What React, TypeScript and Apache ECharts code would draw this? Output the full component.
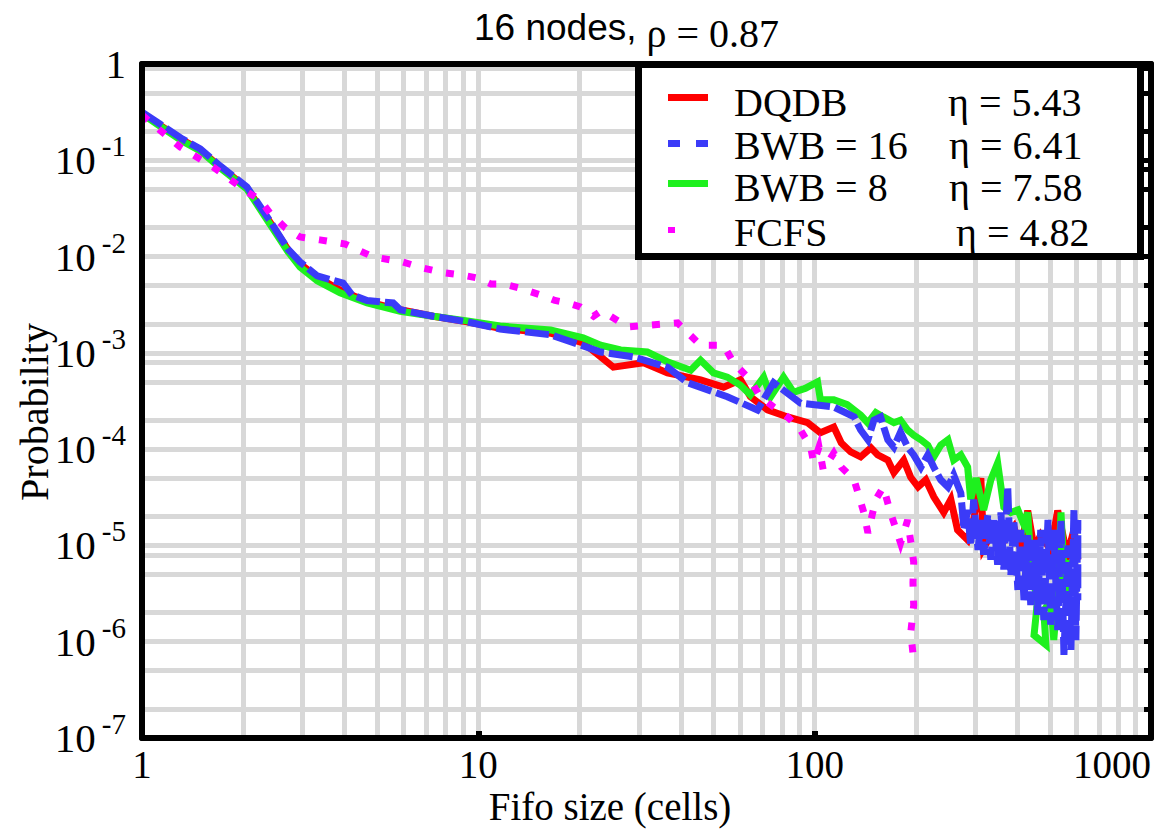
import React, { useEffect, useRef } from "react";
import * as echarts from "echarts";

const SERIF = '"Liberation Serif", "Times New Roman", serif';
const SANS = '"Liberation Sans", Arial, sans-serif';

// ---- axis / grid values ----
const xMin = 1;
const xMax = 1000;
const yMin = 1e-7;
const yMax = 1;
const xGridValues = [2, 3, 4, 5, 6, 7, 8, 9, 10, 20, 30, 40, 50, 60, 70, 80, 90, 100, 200, 300, 400, 500, 600, 700, 800, 900];
const yGridValues = [
  0.9, 0.5, 0.2, 0.1, 0.08, 0.05, 0.02, 0.01, 0.005, 0.002, 0.001, 0.0008, 0.0005, 0.0002,
  1e-4, 5e-5, 2e-5, 1e-5, 8e-6, 5e-6, 2e-6, 1e-6, 5e-7, 2e-7,
];

// ---- legend texts ----
const seriesNames = ["DQDB", "BWB = 16", "BWB = 8", "FCFS"];
const etaLabels = ["η = 5.43", "η = 6.41", "η = 7.58", "η = 4.82"];
const seriesColors = ["#ff0000", "#3b3bf8", "#1ef01e", "#ff00ff"];

// ---- data: [fifo size, probability] ----
const dqdb: [number, number][] = [
  [1, 0.31], [1.13, 0.232], [1.32, 0.162], [1.49, 0.128], [1.71, 0.085], [2.05, 0.0516], [2.4, 0.0229],
  [2.72, 0.0117], [2.95, 0.0084], [3.32, 0.0061], [3.88, 0.0045], [4.67, 0.0034], [5.86, 0.0028],
  [7.34, 0.0024], [9.27, 0.0021], [11.6, 0.0018], [16.4, 0.0016], [20.5, 0.00127], [23.1, 0.00091],
  [25.2, 0.00071], [31, 0.00079], [36.5, 0.00062], [45.8, 0.000525], [53.6, 0.00044], [60.2, 0.000525],
  [64.4, 0.00035], [72.4, 0.000256], [83.1, 0.000216], [95.3, 0.000188], [104, 0.000148], [114, 0.00017],
  [120, 0.000116], [128, 9.35e-5], [137, 8.3e-5], [147, 1.03e-4], [154, 8.7e-5], [165, 7.7e-5],
  [172, 5.7e-5], [184, 7.7e-5], [193, 5.1e-5], [203, 4.05e-5], [214, 4.8e-5], [226, 3.2e-5], [242, 2.2e-5],
  [254, 3.0e-5], [266, 1.45e-5], [285, 1.14e-5], [297, 1.84e-5], [312, 5.0e-5], [318, 9.4e-6],
  [341, 1.45e-5], [358, 1.0e-5], [375, 1.28e-5], [391, 1.56e-5], [410, 9.0e-6], [430, 2.3e-5],
  [449, 9.4e-6], [470, 1.28e-5], [503, 9.0e-6], [528, 2.3e-5], [551, 1.14e-5], [566, 8.4e-6],
  [590, 1.45e-5], [606, 7.1e-6],
];

const bwb16: [number, number][] = [
  [1, 0.317], [1.13, 0.238], [1.32, 0.166], [1.49, 0.131], [1.71, 0.087], [2.05, 0.053], [2.4, 0.0235],
  [2.72, 0.0119], [2.95, 0.0088], [3.32, 0.0063], [3.96, 0.0053], [4.21, 0.004], [4.67, 0.0035],
  [5.58, 0.0033], [5.86, 0.0028], [7.34, 0.0024], [9.27, 0.0021], [11.6, 0.00177], [16.4, 0.00154],
  [20.5, 0.00118], [23.1, 0.00102], [28.9, 0.00091], [36.5, 0.00071], [41.9, 0.00049], [55, 0.00035],
  [67.6, 0.000255], [75.5, 0.00049], [90.8, 0.0003], [114, 0.000274], [131, 0.000216], [137, 0.000158],
  [144, 0.000125], [150, 0.0002], [157, 0.000216], [165, 0.000125], [172, 0.000105], [180, 0.00015],
  [189, 0.000105], [197, 8.7e-5], [207, 6.5e-5], [217, 8.7e-5], [226, 6.5e-5], [237, 4.8e-5],
  [249, 4.05e-5], [259, 5.4e-5], [272, 3.5e-5], [278, 1.45e-5], [285, 2.34e-5], [291, 1.0e-5],
  [297, 3.0e-5], [306, 9.0e-6], [312, 1.84e-5], [318, 8.0e-6], [327, 2.07e-5], [334, 7.1e-6],
  [341, 1.84e-5], [350, 6.3e-6], [358, 2.2e-5], [365, 5.6e-6], [375, 4.05e-5], [383, 4.9e-6],
  [391, 1.84e-5], [402, 3.45e-6], [410, 1.45e-5], [419, 2.7e-6], [430, 1.28e-5], [439, 2.4e-6],
  [449, 1.14e-5], [460, 1.9e-6], [470, 1.45e-5], [480, 1.68e-6], [494, 1.84e-5], [503, 1.5e-6],
  [514, 1.45e-5], [528, 1.32e-6], [540, 1.84e-5], [551, 7.3e-7], [566, 1.0e-5], [578, 8.2e-7],
  [590, 2.34e-5], [598, 1.04e-6], [606, 1.84e-5], [606, 2.7e-6],
];

const bwb8: [number, number][] = [
  [1, 0.303], [1.13, 0.227], [1.32, 0.158], [1.49, 0.125], [1.71, 0.083], [2.05, 0.0504], [2.4, 0.0218],
  [2.72, 0.0112], [2.95, 0.0078], [3.32, 0.0056], [3.88, 0.0042], [4.67, 0.0033], [5.86, 0.0027],
  [7.34, 0.0024], [9.27, 0.00215], [11.6, 0.0019], [16.4, 0.00173], [20.5, 0.00143], [23.1, 0.0012],
  [26.5, 0.00107], [31.8, 0.00102], [36.5, 0.00081], [42.8, 0.00066], [45.8, 0.00084], [50, 0.00062],
  [55, 0.00056], [60.2, 0.00046], [64.4, 0.000365], [70.5, 0.00056], [74, 0.00035], [80.8, 0.00056],
  [86.5, 0.00039], [94, 0.00043], [102, 0.0005], [104, 0.000325], [114, 0.000325], [125, 0.00029],
  [137, 0.000226], [144, 0.000187], [152, 0.00024], [160, 0.000216], [172, 0.000188], [180, 0.0002],
  [189, 0.000158], [197, 0.00014], [207, 0.000125], [217, 0.00011], [226, 8.3e-5], [237, 0.00011],
  [249, 0.000125], [259, 7.7e-5], [272, 8.7e-5], [285, 6.5e-5], [291, 3.0e-5], [302, 5.0e-5],
  [318, 2.34e-5], [334, 4.8e-5], [350, 7.2e-5], [365, 2.5e-5], [383, 2.2e-5], [402, 2.34e-5],
  [419, 1.63e-5], [430, 2.2e-5], [439, 7.1e-6], [449, 3.9e-6], [460, 2.7e-6], [449, 1.17e-6],
  [487, 9.3e-7], [480, 2.1e-6], [503, 2.7e-6], [514, 1.04e-6], [528, 3.45e-6], [540, 2.2e-5],
  [551, 5.6e-6], [558, 2.7e-6], [566, 7.1e-6],
];

const fcfs: [number, number][] = [
  [1, 0.296], [1.13, 0.206], [1.3, 0.137], [1.63, 0.085], [2.05, 0.047], [2.24, 0.039], [2.4, 0.0284],
  [2.67, 0.0198], [2.95, 0.016], [3.38, 0.0149], [4.02, 0.0135], [4.87, 0.0099], [5.94, 0.0088],
  [6.85, 0.0076], [7.86, 0.0068], [9.0, 0.0064], [9.93, 0.006], [10.9, 0.0052], [11.9, 0.0052],
  [13.3, 0.0047], [15.3, 0.004], [16.9, 0.0035], [18.4, 0.0033], [20.1, 0.003], [22, 0.0024],
  [23.1, 0.0027], [24.7, 0.0024], [27.8, 0.00186], [39.1, 0.00205], [45.8, 0.0012], [53.6, 0.0012],
  [57.4, 0.00079], [64.4, 0.00052], [68.9, 0.00035], [75.5, 0.000274], [83.1, 0.000216], [90.8, 0.000158],
  [97.3, 0.000105], [99.3, 7.2e-5], [103, 0.000105], [106, 6.1e-5], [114, 9.1e-5], [120, 6.5e-5],
  [131, 4.8e-5], [140, 2.2e-5], [144, 1.35e-5], [152, 3.0e-5], [160, 4.05e-5], [168, 2.2e-5],
  [180, 1.06e-5], [189, 1.84e-5], [197, 6.7e-6], [196, 4.1e-6], [197, 2.4e-6], [193, 1.23e-6],
  [197, 6.5e-7],
];

const seriesData = [dqdb, bwb16, bwb8, fcfs];
const seriesDash: any[] = ["solid", [24, 5], "solid", [8, 14]];
const drawOrder = [0, 2, 1, 3]; // red, green, blue, magenta on top

function buildOption() {
  const axisLineStyle = { color: "#000", width: 6 };

  const series: any[] = [
    {
      type: "line",
      name: "grid",
      data: [],
      silent: true,
      markLine: {
        silent: true,
        z: 1,
        precision: 12,
        symbol: ["none", "none"],
        label: { show: false },
        lineStyle: { color: "#d8d8d8", width: 5, type: "solid" },
        emphasis: { disabled: true },
        animation: false,
        data: [
          ...xGridValues.map((v) => ({ xAxis: v })),
          ...yGridValues.map((v) => ({ yAxis: v })),
        ],
      },
    },
  ];

  drawOrder.forEach((i, k) => {
    series.push({
      type: "line",
      name: seriesNames[i],
      data: seriesData[i],
      z: 2 + k,
      showSymbol: false,
      symbol: "none",
      silent: true,
      clip: true,
      lineStyle: {
        color: seriesColors[i],
        width: 7,
        type: seriesDash[i],
        cap: "butt",
        join: "miter",
        miterLimit: 4,
      },
    });
  });

  const legendRows = [102, 145, 187, 232];
  const etaX = [948, 949, 949, 956];
  const graphic: any[] = [
    {
      type: "rect",
      z: 100,
      shape: { x: 638.5, y: 64.5, width: 502, height: 192 },
      style: { fill: "#fff", stroke: "#000", lineWidth: 7 },
    },
    { type: "line", z: 101, shape: { x1: 668, y1: 97.5, x2: 708, y2: 97.5 }, style: { stroke: seriesColors[0], lineWidth: 7 } },
    { type: "line", z: 101, shape: { x1: 668, y1: 143.5, x2: 680, y2: 143.5 }, style: { stroke: seriesColors[1], lineWidth: 7 } },
    { type: "line", z: 101, shape: { x1: 696, y1: 143.5, x2: 708, y2: 143.5 }, style: { stroke: seriesColors[1], lineWidth: 7 } },
    { type: "line", z: 101, shape: { x1: 668, y1: 183.5, x2: 708, y2: 183.5 }, style: { stroke: seriesColors[2], lineWidth: 7 } },
    { type: "rect", z: 101, shape: { x: 668, y: 227, width: 7, height: 6 }, style: { fill: seriesColors[3] } },
    {
      type: "text",
      z: 10,
      x: 610,
      y: 806,
      style: { text: "Fifo size (cells)", fontFamily: SERIF, fontSize: 39, fill: "#000", align: "center", verticalAlign: "middle" },
    },
    {
      type: "text",
      z: 10,
      x: 34,
      y: 412,
      rotation: Math.PI / 2,
      style: { text: "Probability", fontFamily: SERIF, fontSize: 40, fill: "#000", align: "center", verticalAlign: "middle" },
    },
  ];
  seriesNames.forEach((name, i) => {
    graphic.push({
      type: "text",
      z: 102,
      x: 734,
      y: legendRows[i],
      style: { text: name, fontFamily: SERIF, fontSize: 40, fill: "#000", align: "left", verticalAlign: "middle" },
    });
    graphic.push({
      type: "text",
      z: 102,
      x: etaX[i],
      y: legendRows[i],
      style: { text: etaLabels[i], fontFamily: SERIF, fontSize: 40, fill: "#000", align: "left", verticalAlign: "middle" },
    });
  });

  return {
    animation: false,
    backgroundColor: "#fff",
    title: {
      text: "{a|16 nodes,}  {b|ρ = 0.87}",
      left: 474,
      top: 7,
      padding: 0,
      textStyle: {
        fontWeight: "normal",
        rich: {
          a: { fontFamily: SANS, fontSize: 37, fontWeight: "normal", lineHeight: 38, color: "#000" },
          b: { fontFamily: SERIF, fontSize: 40, fontWeight: "normal", lineHeight: 40, padding: [12, 0, 0, 0], color: "#000" },
        },
      },
    },
    grid: { left: 142, right: 9, top: 64, bottom: 95, containLabel: false, show: false },
    xAxis: [
      {
        type: "log",
        logBase: 10,
        min: xMin,
        max: xMax,
        position: "bottom",
        z: 10,
        axisLine: { show: true, onZero: false, lineStyle: axisLineStyle },
        axisTick: { show: true, inside: true, length: 7, lineStyle: { color: "#000", width: 6 } },
        axisLabel: {
          show: true,
          color: "#000",
          fontFamily: SERIF,
          fontSize: 39,
          margin: 7,
          alignMaxLabel: "right",
          formatter: (v: number) => String(Math.round(v)),
        },
        splitLine: { show: false },
        minorTick: { show: false },
      },
      {
        type: "log",
        logBase: 10,
        min: xMin,
        max: xMax,
        position: "top",
        z: 10,
        axisLine: { show: true, onZero: false, lineStyle: axisLineStyle },
        axisTick: { show: false },
        axisLabel: { show: false },
        splitLine: { show: false },
      },
    ],
    yAxis: [
      {
        type: "log",
        logBase: 10,
        min: yMin,
        max: yMax,
        position: "left",
        z: 10,
        axisLine: { show: true, onZero: false, lineStyle: axisLineStyle },
        axisTick: { show: false },
        splitLine: { show: false },
        axisLabel: {
          show: true,
          margin: 16,
          color: "#000",
          formatter: (v: number) => {
            const e = Math.round(Math.log10(v));
            if (e === 0) return "{one|1}";
            return "{b|10}{s|" + e + "}";
          },
          rich: {
            one: { fontFamily: SERIF, fontSize: 41, lineHeight: 41, color: "#000" },
            b: { fontFamily: SERIF, fontSize: 41, lineHeight: 41, color: "#000" },
            s: { fontFamily: SERIF, fontSize: 29, lineHeight: 29, padding: [0, 0, 28, 6], color: "#000" },
          },
        },
      },
      {
        type: "log",
        logBase: 10,
        min: yMin,
        max: yMax,
        position: "right",
        z: 10,
        axisLine: { show: true, onZero: false, lineStyle: axisLineStyle },
        axisTick: {
          show: true,
          inside: true,
          length: 7,
          lineStyle: { color: "#000", width: 5 },
          customValues: yGridValues,
        },
        axisLabel: { show: false },
        splitLine: { show: false },
      },
    ],
    series,
    graphic,
  };
}

export default function App() {
  const ref = useRef<HTMLDivElement>(null);
  useEffect(() => {
    document.body.style.margin = "0";
    if (!ref.current) return;
    const chart = echarts.init(ref.current, undefined, { renderer: "svg" });
    chart.setOption(buildOption() as any);
    return () => chart.dispose();
  }, []);
  return <div ref={ref} style={{ width: 1160, height: 833 }} />;
}
